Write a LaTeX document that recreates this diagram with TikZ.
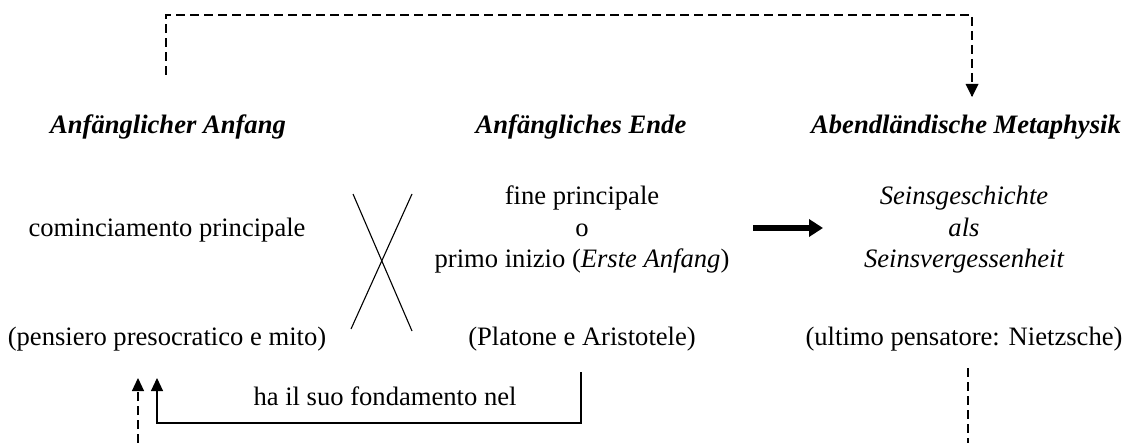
\documentclass[tikz,border=0pt]{standalone}
\usepackage{fontspec}
\setmainfont{Liberation Serif}
\usetikzlibrary{arrows.meta}

\begin{document}
\begin{tikzpicture}[x=1pt,y=-1pt,
  txt/.style={inner sep=0pt,anchor=base,font=\fontsize{26.6}{31.5}\selectfont},
  head/.style={txt,font=\fontsize{26.6}{31.5}\selectfont\bfseries\itshape},
  emph/.style={txt,font=\fontsize{26.6}{31.5}\selectfont\itshape},
  thin/.style={line width=1.1pt},
  dashlink/.style={line width=1.2pt,dash pattern=on 9pt off 5pt},
  tip/.style={-{Triangle[length=13pt,width=12pt]}},
  bigarrow/.style={line width=6.5pt,-{Triangle[length=14pt,width=17pt]}}]

\fill[white] (0,0) rectangle (1126,443);
\useasboundingbox (0,0) rectangle (1126,443);

% column headings
\node[head] (hA) at (168,134) {Anfänglicher Anfang};
\node[head] (hB) at (581,134) {Anfängliches Ende};
\node[head] (hC) at (966,134) {Abendländische Metaphysik};

% left column
\node[txt] (cA) at (167,237) {cominciamento principale};
\node[txt] (pA) at (167,345) {(pensiero presocratico e mito)};

% middle column
\node[txt] (cB1) at (582,205) {fine principale};
\node[txt] (cB2) at (582,236.5) {o};
\node[txt] (cB3) at (582,268) {primo inizio (\textit{Erste Anfang})};
\node[txt] (pB) at (582,345) {(Platone e Aristotele)};

% right column
\node[emph] (cC1) at (964,205) {Seinsgeschichte};
\node[emph] (cC2) at (964,236.5) {als};
\node[emph] (cC3) at (964,268) {Seinsvergessenheit};
\node[txt] (pC) at (964,345) {(ultimo pensatore: Nietzsche)};

% crossing strokes between the first two columns
\coordinate (x1) at (353,194);
\coordinate (x2) at (412,331);
\coordinate (x3) at (412,194);
\coordinate (x4) at (351,329);
\draw[thin] (x1) -- (x2);
\draw[thin] (x3) -- (x4);

% thick arrow towards the metaphysics column
\coordinate (bs) at (753,228);
\coordinate (be) at (823,228);
\draw[bigarrow] (bs) -- (be);

% dashed link across the top
\coordinate (topL) at (166,75);
\coordinate (topR) at (972,97);
\draw[dashlink] (topL) -- ++(0,-60) -| (topR);
\fill (topR) -- ++(-6.5,-13) -- ++(13,0) -- cycle;

% "ha il suo fondamento nel" return path
\coordinate (fR) at (581,372);
\coordinate (fL) at (157,378);
\draw[thin,tip] (fR) -- ++(0,51) -| (fL);
\node[txt] (fnd) at (385,405) {ha il suo fondamento nel};

% dashed arrow coming up from below
\coordinate (dL0) at (138,443);
\coordinate (dL1) at (138,378);
\draw[dashlink,tip] (dL0) -- (dL1);

% dashed line leaving the last column downwards
\coordinate (dR0) at (968,368);
\coordinate (dR1) at (968,443);
\draw[dashlink] (dR0) -- (dR1);
\end{tikzpicture}
\end{document}
